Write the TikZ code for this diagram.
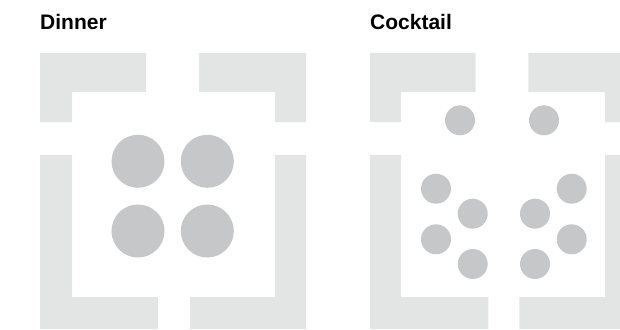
\documentclass[tikz,border=0pt]{standalone}
\usepackage{fontspec}
\setmainfont{Liberation Sans}
\definecolor{wallgray}{RGB}{227,228,228}
\definecolor{tablegray}{RGB}{198,199,200}
\begin{document}
\begin{tikzpicture}[x=1pt,y=-1pt,
    wall/.style={fill=wallgray},
    table/.style={fill=tablegray},
    title/.style={anchor=base west,inner sep=0pt,font=\fontsize{21}{24}\selectfont\bfseries}]
    \useasboundingbox (0,0) rectangle (620,329);

    % Titel
    \node[title] (dinner) at (40,29.3) {Dinner};
    \node[title] (cocktail) at (370,29.3) {Cocktail};

    % Dinner - Wände
    \fill[wall] (40,53) -- (146,53) -- (146,92) -- (72,92) -- (72,122) -- (40,122) -- cycle;
    \fill[wall] (199,53) -- (306,53) -- (306,122) -- (275,122) -- (275,92) -- (199,92) -- cycle;
    \fill[wall] (40,155) -- (72,155) -- (72,297) -- (158,297) -- (158,329) -- (40,329) -- cycle;
    \fill[wall] (306,155) -- (275,155) -- (275,297) -- (190,297) -- (190,329) -- (306,329) -- cycle;

    % Dinner - Tische
    \foreach \x in {138,207.3}
      \foreach \y in {161.3,231}
        \fill[table] (\x,\y) circle (26.5);

    % Cocktail - Wände
    \fill[wall] (370,53) -- (475.7,53) -- (475.7,92) -- (401,92) -- (401,122) -- (370,122) -- cycle;
    \fill[wall] (528.3,53) -- (620,53) -- (620,122) -- (605,122) -- (605,92) -- (528.3,92) -- cycle;
    \fill[wall] (370,155) -- (401,155) -- (401,297) -- (488.3,297) -- (488.3,329) -- (370,329) -- cycle;
    \fill[wall] (620,155) -- (605,155) -- (605,297) -- (519.3,297) -- (519.3,329) -- (620,329) -- cycle;

    % Cocktail - Stehtische
    \foreach \x/\y in {460/120.3, 544/120.3,
                       436/188.7, 472.7/213.7, 436/239.3, 472.7/264,
                       571.7/188.7, 535/213.7, 571.7/239.3, 535/264}
      \fill[table] (\x,\y) circle (15);
\end{tikzpicture}
\end{document}
